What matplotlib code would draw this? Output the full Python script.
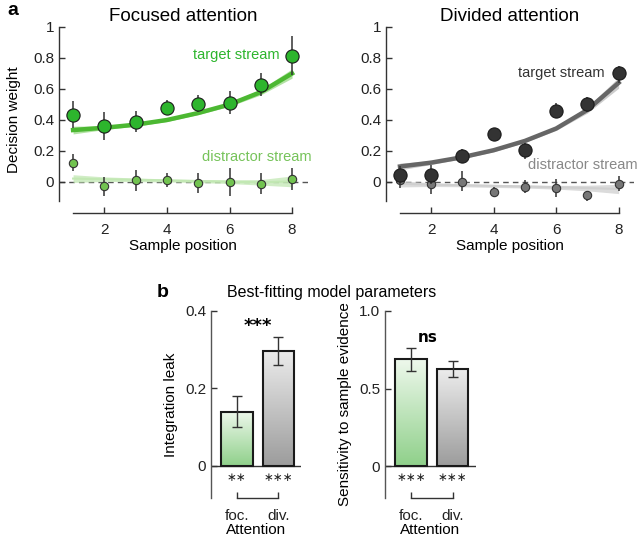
import numpy as np
import matplotlib
matplotlib.use('Agg')
import matplotlib.pyplot as plt
from matplotlib.colors import LinearSegmentedColormap

plt.rcParams['font.family'] = ['Liberation Sans', 'DejaVu Sans']
plt.rcParams['font.size'] = 9
plt.rcParams['xtick.direction'] = 'in'
plt.rcParams['ytick.direction'] = 'in'
plt.rcParams['axes.linewidth'] = 1.0

# ---- data panel a ----
pos = [1, 2, 3, 4, 5, 6, 7, 8]

foc_target = [0.43, 0.36, 0.385, 0.48, 0.505, 0.51, 0.625, 0.815]
foc_target_lo = [0.35, 0.27, 0.32, 0.44, 0.45, 0.44, 0.555, 0.69]
foc_target_hi = [0.52, 0.45, 0.46, 0.53, 0.56, 0.59, 0.70, 0.94]
foc_target_fit = [0.335, 0.35, 0.37, 0.40, 0.445, 0.50, 0.58, 0.70]
foc_target_band = [0.025, 0.012, 0.01, 0.01, 0.01, 0.012, 0.018, 0.03]

foc_distr = [0.125, -0.025, 0.01, 0.01, -0.005, 0.0, -0.01, 0.02]
foc_distr_lo = [0.07, -0.09, -0.06, -0.03, -0.07, -0.09, -0.08, -0.05]
foc_distr_hi = [0.18, 0.03, 0.08, 0.06, 0.06, 0.09, 0.06, 0.09]
foc_distr_fit = [0.022, 0.018, 0.014, 0.01, 0.006, 0.002, -0.002, 0.004]
foc_distr_band = [0.025, 0.015, 0.012, 0.01, 0.01, 0.012, 0.018, 0.035]

div_target = [0.045, 0.045, 0.165, 0.31, 0.205, 0.46, 0.50, 0.70]
div_target_lo = [-0.02, -0.01, 0.12, 0.27, 0.15, 0.41, 0.45, 0.64]
div_target_hi = [0.10, 0.11, 0.21, 0.34, 0.25, 0.51, 0.55, 0.75]
div_target_fit = [0.10, 0.125, 0.16, 0.205, 0.265, 0.345, 0.465, 0.64]
div_target_band = [0.022, 0.012, 0.01, 0.01, 0.01, 0.012, 0.02, 0.035]

div_distr = [0.01, -0.015, 0.0, -0.065, -0.03, -0.04, -0.085, -0.015]
div_distr_lo = [-0.04, -0.08, -0.06, -0.10, -0.07, -0.10, -0.12, -0.06]
div_distr_hi = [0.06, 0.04, 0.07, -0.03, 0.01, 0.02, -0.06, 0.04]
div_distr_fit = [-0.012, -0.017, -0.021, -0.025, -0.029, -0.034, -0.039, -0.045]
div_distr_band = [0.02, 0.012, 0.01, 0.01, 0.01, 0.012, 0.018, 0.03]

# ---- data panel b ----
cond = ['foc.', 'div.']
leak = [0.14, 0.297]
leak_err = [0.04, 0.037]
leak_stars = ['\u2217\u2217', '\u2217\u2217\u2217']
sens = [0.688, 0.625]
sens_err = [0.073, 0.052]
sens_stars = ['\u2217\u2217\u2217', '\u2217\u2217\u2217']

green = '#2db52d'
green_fit = '#4cb832'
green_band = '#93d67e'
green_distr = '#72c350'
dark = '#333333'
grey_fit = '#666666'
grey_band = '#b8b8b8'
grey_distr = '#777777'


def curve_panel(ax, t, tlo, thi, tfit, tband, d, dlo, dhi, dfit, dband,
                tcol, fcol, bcol, dcol, dbcol, ttxt_col, dtxt_col, tlab, dlab):
    ax.axhline(0, color='#555555', lw=1.0, ls=(0, (4, 3)), zorder=1)
    tf = np.array(tfit)
    tb = np.array(tband)
    df = np.array(dfit)
    db = np.array(dband)
    ax.fill_between(pos, df - db, df + db, color=dbcol, alpha=0.75, lw=0, zorder=2)
    ax.plot(pos, df, color=dbcol, lw=1.5, zorder=2)
    ax.fill_between(pos, tf - tb, tf + tb, color=bcol, alpha=0.7, lw=0, zorder=2)
    ax.plot(pos, tf, color=fcol, lw=3.2, zorder=3)
    ax.vlines(pos, dlo, dhi, color=dark, lw=1.1, zorder=4)
    ax.plot(pos, d, 'o', ms=6, mfc=dcol, mec=dark, mew=0.8, zorder=5)
    ax.vlines(pos, tlo, thi, color=dark, lw=1.1, zorder=6)
    ax.plot(pos, t, 'o', ms=9.5, mfc=tcol, mec='#1a1a1a', mew=0.8, zorder=7)
    ax.text(tlab[0], tlab[1], 'target stream', color=ttxt_col, ha='right',
            va='center', fontsize=10.5)
    ax.text(dlab[0], dlab[1], 'distractor stream', color=dtxt_col, ha='right',
            va='center', fontsize=10.5)
    ax.set_ylim(-0.2, 1.0)
    ax.set_xlim(0.55, 8.5)
    ax.spines['top'].set_visible(False)
    ax.spines['right'].set_visible(False)
    ax.spines['left'].set_bounds(-0.12, 1.0)
    ax.spines['bottom'].set_bounds(1, 8)
    ax.spines['left'].set_color('#333333')
    ax.spines['bottom'].set_color('#333333')
    ax.set_yticks([0, 0.2, 0.4, 0.6, 0.8, 1])
    ax.set_yticklabels(['0', '0.2', '0.4', '0.6', '0.8', '1'])
    ax.set_xticks([2, 4, 6, 8])
    ax.tick_params(labelsize=11, length=4, width=1.0, colors='#333333',
                   labelcolor='#222222')
    ax.tick_params(axis='x', pad=7)
    ax.set_xlabel('Sample position', fontsize=11, labelpad=2)


fig = plt.figure(figsize=(6.4, 5.41), dpi=100)

axL = fig.add_axes([0.0922, 0.6063, 0.3886, 0.3438])
curve_panel(axL, foc_target, foc_target_lo, foc_target_hi, foc_target_fit, foc_target_band,
            foc_distr, foc_distr_lo, foc_distr_hi, foc_distr_fit, foc_distr_band,
            green, green_fit, green_band, green_distr, '#c2e8b3', '#2db52d', '#76c35a',
            (7.6, 0.82), (8.64, 0.16))
axL.set_ylabel('Decision weight', fontsize=11, labelpad=9)
axL.set_title('Focused attention', fontsize=13.5, pad=4)

axR = fig.add_axes([0.603, 0.6063, 0.388, 0.3438])
curve_panel(axR, div_target, div_target_lo, div_target_hi, div_target_fit, div_target_band,
            div_distr, div_distr_lo, div_distr_hi, div_distr_fit, div_distr_band,
            dark, grey_fit, grey_band, grey_distr, '#cfcfcf', '#333333', '#888888',
            (7.55, 0.70), (8.6, 0.11))
axR.set_title('Divided attention', fontsize=13.5, pad=4)

fig.text(0.012, 0.98, 'a', fontsize=14, fontweight='bold', va='center')
fig.text(0.245, 0.459, 'b', fontsize=14, fontweight='bold', va='center')
fig.text(0.518, 0.459, 'Best-fitting model parameters', fontsize=11.5,
         ha='center', va='center')

bar_cmaps = [LinearSegmentedColormap.from_list('g', ['#8fd08a', '#eef8ec']),
             LinearSegmentedColormap.from_list('k', ['#9c9c9c', '#ececec'])]


def bar_panel(ax, vals, errs, ylim, yticks, yticklabels, ylabel, stars, star_y, top_txt):
    x = np.arange(len(vals))
    bars = ax.bar(x, vals, width=0.76, facecolor='none', edgecolor='#1a1a1a',
                  lw=1.5, zorder=3)
    grad = np.linspace(0, 1, 256).reshape(-1, 1)
    for b, cm in zip(bars, bar_cmaps):
        bx, by = b.get_x(), b.get_y()
        im = ax.imshow(grad, cmap=cm, origin='lower', aspect='auto',
                       extent=[bx, bx + b.get_width(), by, by + b.get_height()],
                       zorder=2)
        im.set_clip_path(b)
    ax.errorbar(x, vals, yerr=errs, fmt='none', ecolor='#333333', elinewidth=1.0,
                capsize=3.5, capthick=1.0, zorder=4)
    ax.axhline(0, color='#333333', lw=1.0, zorder=1)
    for xi, s in zip(x, stars):
        ax.text(xi, star_y, s, ha='center', va='center', fontsize=8.5,
                family='DejaVu Sans', color='#222222')
    ax.set_xlim(-0.62, 1.55)
    ax.set_ylim(*ylim)
    ax.spines['top'].set_visible(False)
    ax.spines['right'].set_visible(False)
    ax.spines['left'].set_bounds(ylim[0], ylim[1])
    ax.spines['bottom'].set_bounds(0, 1)
    ax.spines['left'].set_color('#555555')
    ax.spines['bottom'].set_color('#333333')
    ax.set_yticks(yticks)
    ax.set_yticklabels(yticklabels)
    ax.set_xticks(x)
    ax.set_xticklabels(cond)
    ax.tick_params(labelsize=11, length=4, width=1.0, colors='#333333',
                   labelcolor='#222222')
    ax.tick_params(axis='x', pad=8)
    ax.set_xlabel('Attention', fontsize=11, labelpad=0)
    ax.set_ylabel(ylabel, fontsize=11, labelpad=5)
    ax.text(top_txt[0], top_txt[1], top_txt[2], ha='center', va='center',
            fontsize=top_txt[3], fontweight='bold', family='DejaVu Sans')


axB1 = fig.add_axes([0.3297, 0.0795, 0.141, 0.3457])
bar_panel(axB1, leak, leak_err, (-0.083, 0.4), [0, 0.2, 0.4], ['0', '0.2', '0.4'],
          'Integration leak', leak_stars, -0.03, (0.5, 0.362, '***', 13))

axB2 = fig.add_axes([0.6016, 0.0795, 0.1414, 0.3457])
bar_panel(axB2, sens, sens_err, (-0.206, 1.0), [0, 0.5, 1.0], ['0', '0.5', '1.0'],
          'Sensitivity to sample evidence', sens_stars, -0.075, (0.4, 0.83, 'ns', 11))

fig.savefig('out.png', dpi=100)
